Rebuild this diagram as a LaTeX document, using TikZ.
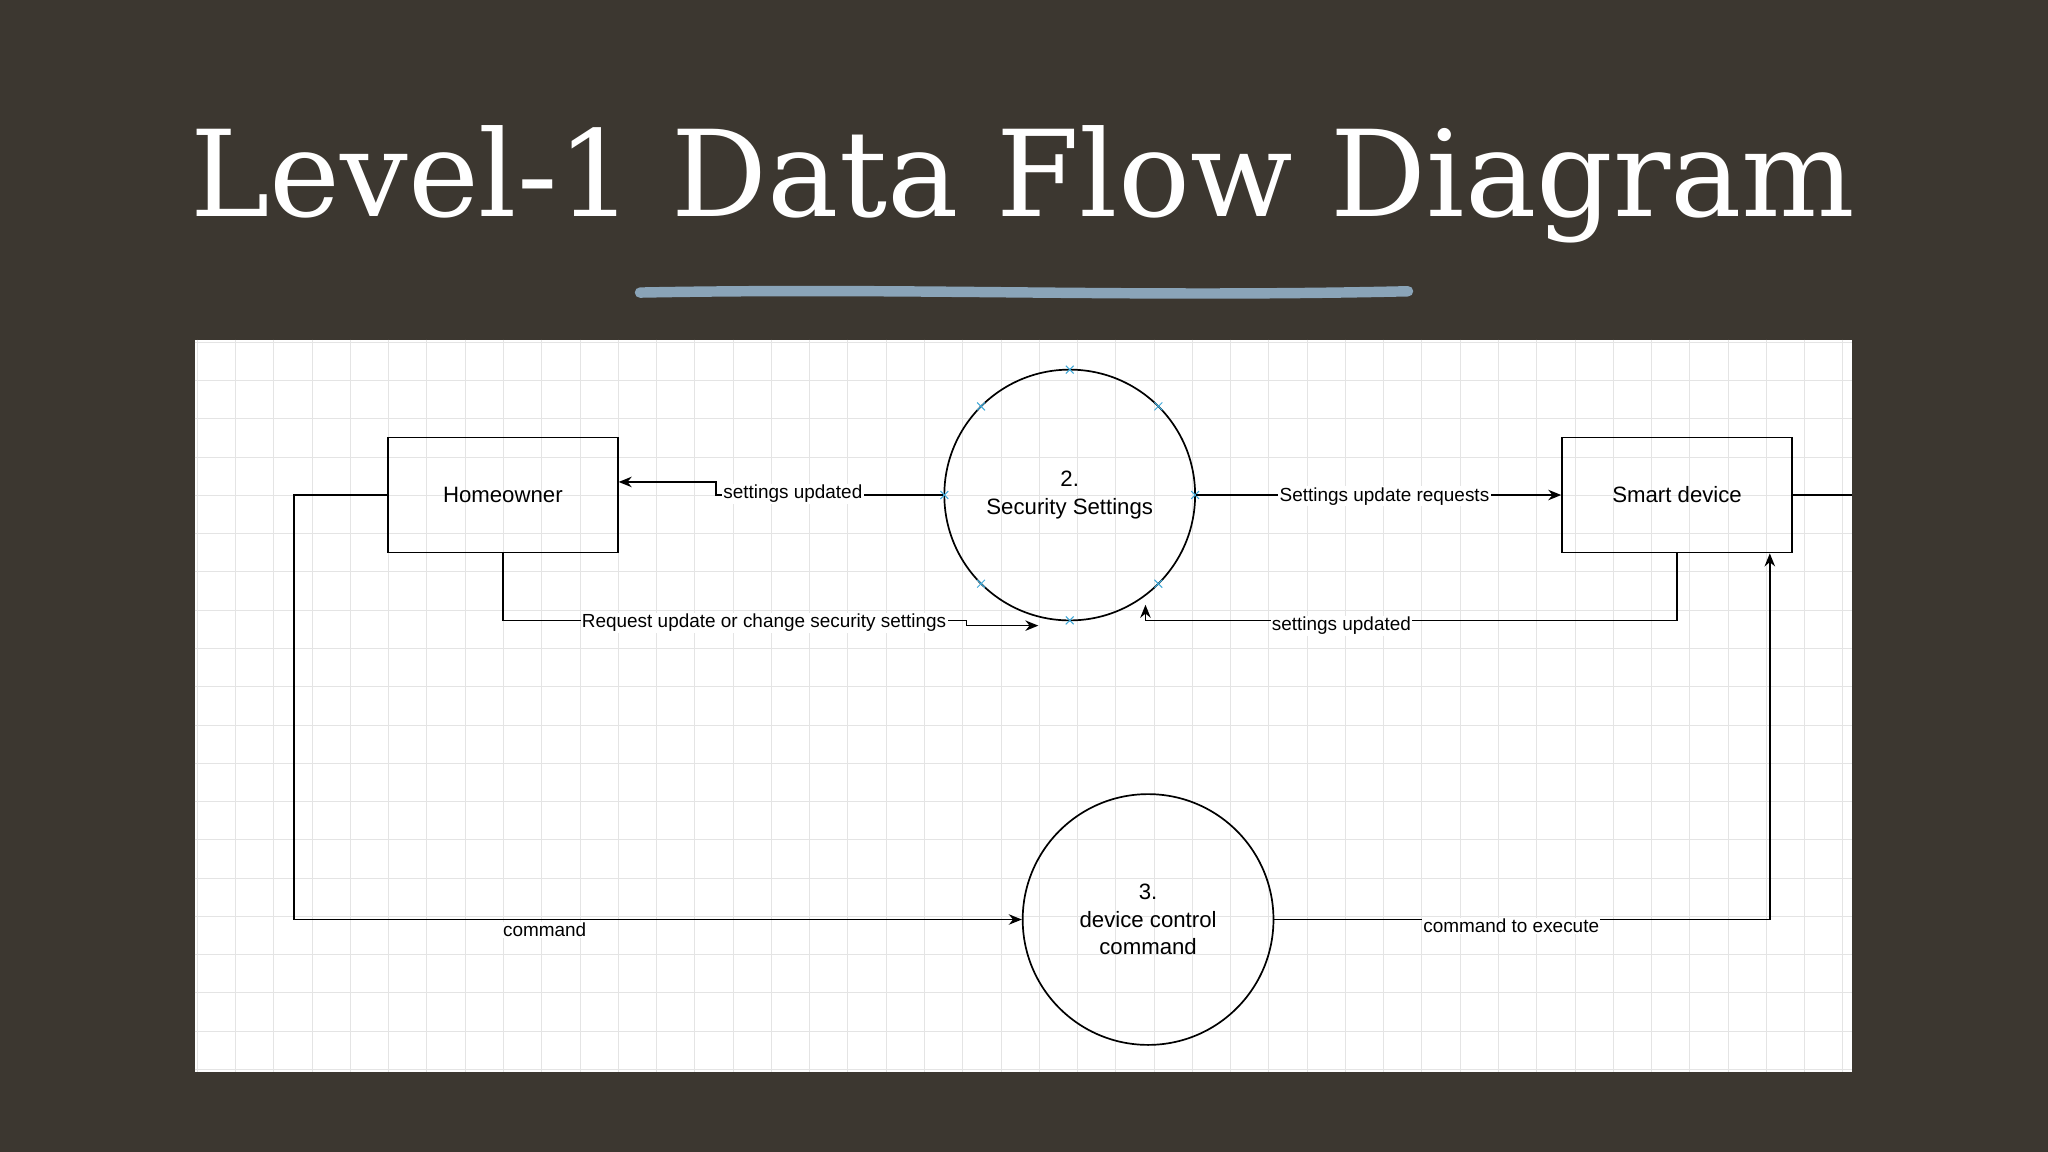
\documentclass[tikz,border=0pt]{standalone}
\usepackage{fontspec}
\usepackage{graphicx}
\setmainfont{Liberation Sans}
\newfontfamily\titlefont{DejaVu Serif}
\usetikzlibrary{arrows.meta}
\definecolor{bgdark}{HTML}{3C3730}
\definecolor{uline}{HTML}{8AA4B8}
\definecolor{gridc}{HTML}{E4E4E4}
\definecolor{mkcol}{HTML}{3FA9D9}
\begin{document}
\begin{tikzpicture}[x=1pt,y=-1pt,
  box/.style={draw,line width=1.3pt,minimum width=176pt,minimum height=88pt,font=\fontsize{17}{20}\selectfont,inner sep=0pt},
  proc/.style={draw,line width=1.3pt,circle,minimum size=192pt,inner sep=0pt,align=center,font=\fontsize{17}{21}\selectfont},
  flow/.style={line width=1.3pt,-{Stealth[length=10pt,width=8pt]}},
  lab/.style={font=\fontsize{14.5}{16}\selectfont,fill=white,inner sep=1pt},
  mk/.style={draw=mkcol,line width=0.8pt}]
\useasboundingbox (0,0) rectangle (1568,882);
\fill[bgdark] (0,0) rectangle (1568,882);
\node[text=white,anchor=base,inner sep=0pt] (title) at (783,166) {\resizebox{1275pt}{!}{\titlefont\fontsize{100}{110}\selectfont Level-1 Data Flow Diagram}};
\draw[uline,line width=8pt,line cap=round] (490,224) .. controls (700,220) and (860,228) .. (1078,223);
\fill[white] (149,260) rectangle (1418,821);
\begin{scope}
\clip (149,260) rectangle (1418,821);
\foreach \x in {151,180.3,...,1420}{\draw[gridc,line width=0.6pt] (\x,260) -- (\x,821);}
\foreach \y in {262,291.3,...,822}{\draw[gridc,line width=0.6pt] (149,\y) -- (1418,\y);}
\end{scope}
\node[box] (home) at (385,379) {Homeowner};
\node[box] (smart) at (1284,379) {Smart device};
\node[proc] (p2) at (819,379) {2.\\Security Settings};
\node[proc] (p3) at (879,704) {3.\\device control\\command};
\foreach \a in {0,45,...,315}{
  \path (p2.center) ++(\a:96) coordinate (m\a);
  \draw[mk] (m\a) ++(-3,-3) -- ++(6,6) (m\a) ++(-3,3) -- ++(6,-6);}
\coordinate (j1) at (548,369);
\coordinate (j2) at (548,379);
\draw[flow] (p2.west) -- (j2) -- (j1) -- (home.east |- j1);
\node[lab] at (607,378) {settings updated};
\coordinate (r1) at (385,475);
\coordinate (r2) at (795,479);
\draw[flow] (home.south) -- (r1) -- (740,475) -- (740,479) -- (r2);
\node[lab] at (585,477) {Request update or change security settings};
\draw[flow] (p2.east) -- (smart.west);
\node[lab] at (1060,380) {Settings update requests};
\coordinate (s1) at (1284,475);
\coordinate (s2) at (877,475);
\coordinate (s3) at (877,463);
\draw[flow] (smart.south) -- (s1) -- (s2) -- (s3);
\node[lab] at (1027,479) {settings updated};
\coordinate (out) at (1418,379);
\draw[line width=1.3pt] (smart.east) -- (out);
\coordinate (h1) at (225,379);
\coordinate (h2) at (225,704);
\draw[flow] (home.west) -- (h1) -- (h2) -- (p3.west);
\node[lab] at (417,712) {command};
\coordinate (c1) at (1355,704);
\draw[flow] (p3.east) -- (c1) -- (c1 |- smart.south);
\node[lab] at (1157,709) {command to execute};
\end{tikzpicture}
\end{document}
